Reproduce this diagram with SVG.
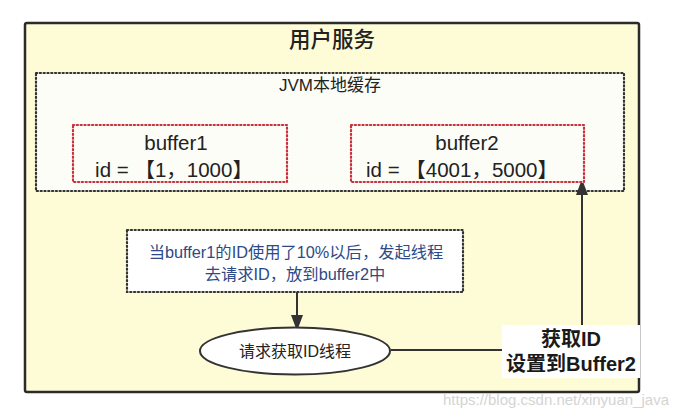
<svg xmlns="http://www.w3.org/2000/svg" width="685" height="416" viewBox="0 0 685 416">
<defs>
<marker id="arr" viewBox="0 0 12 16" refX="12" refY="6" markerWidth="12" markerHeight="16" markerUnits="userSpaceOnUse" orient="auto">
<path d="M0,0 L16,6 L0,12 Z" fill="#333"/>
</marker>
<style>
text{font-family:"Liberation Sans","Noto Sans CJK SC",sans-serif;text-anchor:middle;fill:#222}
.dot{stroke-dasharray:1.2 2.6;stroke-linecap:round;stroke-width:2.2}
.red{fill:#fdfdf8;stroke:#c8303c}
.buf{font-size:20.5px}
.blue{fill:#2d4a86;font-size:16.3px}
.lbl{font-size:20px;font-weight:bold;fill:#1a1a1a}
.conn{fill:none;stroke:#333;stroke-width:2}
</style>
</defs>
<rect width="685" height="416" fill="#ffffff"/>
<g id="user-service">
<rect x="25" y="23" width="614" height="369" rx="2" fill="#fefcd6" stroke="#2b2b2b" stroke-width="2.5"/>
<text x="332" y="47" font-size="21.5" font-weight="500">用户服务</text>
</g>
<g id="jvm-cache">
<rect x="36" y="73" width="588" height="118" fill="#fdfdf7" stroke="#333" class="dot"/>
<text x="330" y="91" font-size="17">JVM本地缓存</text>
</g>
<g id="buffer1">
<rect x="73" y="125" width="214" height="57" class="dot red"/>
<text x="176" y="150" class="buf">buffer1</text>
<text x="174" y="177" class="buf">id = 【1，1000】</text>
</g>
<g id="buffer2">
<rect x="351" y="125" width="233" height="57" class="dot red"/>
<text x="467" y="150" class="buf">buffer2</text>
<text x="462" y="177" class="buf">id = 【4001，5000】</text>
</g>
<g id="note">
<rect x="127" y="230" width="336" height="62" fill="#ffffff" stroke="#333" class="dot"/>
<text x="296" y="258" class="blue">当buffer1的ID使用了10%以后，发起线程</text>
<text x="295" y="280" class="blue">去请求ID，放到buffer2中</text>
</g>
<g id="connectors">
<path d="M297,292 V327" class="conn" marker-end="url(#arr)"/>
<path d="M391,350 H582 V183" class="conn" marker-end="url(#arr)"/>
</g>
<g id="thread">
<ellipse cx="295" cy="351" rx="95" ry="23.5" fill="#ffffff" stroke="#333" stroke-width="2"/>
<text x="295" y="357" font-size="16">请求获取ID线程</text>
</g>
<g id="set-label">
<rect x="502" y="325" width="138" height="53" fill="#ffffff"/>
<text x="571" y="346" class="lbl">获取ID</text>
<text x="571" y="371" class="lbl">设置到Buffer2</text>
</g>
<text x="556" y="405" font-size="15" style="fill:#d4d4d4">https://blog.csdn.net/xinyuan_java</text>
</svg>
